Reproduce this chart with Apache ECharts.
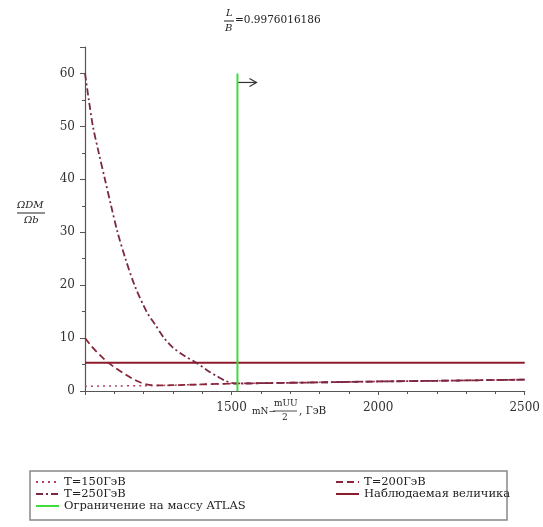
<!DOCTYPE html>
<html>
<head>
<meta charset="utf-8">
<script src="https://cdn.jsdelivr.net/npm/echarts@6/dist/echarts.min.js"></script>
<style>
  html, body { margin: 0; padding: 0; background: #fff; }
  #chart { width: 543px; height: 527px; }
</style>
</head>
<body>
<div id="chart"></div>
<script>
// Relic density ratio Omega_DM / Omega_b versus mN - mUU/2 (GeV)
const seriesNames = ['T=150ГэВ', 'T=200ГэВ', 'T=250ГэВ', 'Наблюдаемая величика', 'Ограничение на массу ATLAS'];

const massT150 = [1000, 1100, 1200, 1300, 1400, 1500, 1600, 1800, 2000, 2200, 2500];
const ratioT150 = [0.9, 0.95, 1.0, 1.1, 1.25, 1.4, 1.48, 1.63, 1.8, 1.93, 2.15];

const massT200 = [1000, 1020, 1040, 1060, 1078, 1100, 1130, 1160, 1190, 1220, 1250, 1300, 1400, 1500, 1600, 1800, 2000, 2200, 2500];
const ratioT200 = [10, 8.6, 7.4, 6.3, 5.4, 4.5, 3.4, 2.4, 1.6, 1.15, 1.05, 1.1, 1.25, 1.4, 1.48, 1.63, 1.8, 1.93, 2.15];

const massT250 = [1000, 1013, 1027, 1047, 1068, 1089, 1111, 1138, 1169, 1210, 1240, 1270, 1300, 1340, 1378, 1420, 1450, 1480, 1510, 1550, 1600, 1800, 2000, 2200, 2500];
const ratioT250 = [60, 55, 50, 45, 40, 35, 30, 25, 20, 15, 12.5, 10, 8.2, 6.6, 5.4, 3.8, 2.8, 1.9, 1.45, 1.42, 1.48, 1.63, 1.8, 1.93, 2.15];

const observedRatio = 5.36;
const atlasMass = 1520;
const atlasTop = 60;

const xTicks = { min: 1000, max: 2500, interval: 500 };
const yTicks = { min: 0, max: 65, interval: 10 };

const serif = '"DejaVu Serif", "Liberation Serif", serif';
const colT150 = '#b0405c';
const colT200 = '#8a2538';
const colT250 = '#7a2848';
const colObs = '#8c1c2c';
const colAtlas = '#3fdc3f';

const pairs = (xs, ys) => xs.map((x, i) => [x, ys[i]]);

const chart = echarts.init(document.getElementById('chart'), null, { renderer: 'canvas' });

const legendText = { fontFamily: serif, fontSize: 11.5, color: '#222', lineHeight: 11 };
const legendBase = {
  orient: 'vertical', top: 476, padding: 0,
  itemWidth: 23, itemHeight: 8, itemGap: 0,
  itemStyle: { color: 'rgba(0,0,0,0)', borderWidth: 0, opacity: 0 },
  textStyle: legendText
};

chart.setOption({
  animation: false,
  backgroundColor: '#fff',
  grid: { left: 85, right: 18, top: 47, bottom: 136, containLabel: false },
  legend: [
    Object.assign({ data: [seriesNames[0], seriesNames[2], seriesNames[4]], left: 35 }, legendBase),
    Object.assign({ data: [seriesNames[1], seriesNames[3]], left: 335 }, legendBase)
  ],
  xAxis: {
    type: 'value', min: xTicks.min, max: xTicks.max, interval: xTicks.interval,
    axisLine: { lineStyle: { color: '#555', width: 1.2 } },
    axisTick: { length: 4, lineStyle: { color: '#555' } },
    minorTick: { show: true, splitNumber: 5, length: 3, lineStyle: { color: '#555' } },
    splitLine: { show: false },
    axisLabel: {
      showMinLabel: false, fontFamily: serif, fontSize: 12, color: '#333', margin: 11,
      formatter: (v) => String(v)
    }
  },
  yAxis: {
    type: 'value', min: yTicks.min, max: yTicks.max, interval: yTicks.interval,
    axisLine: { show: true, lineStyle: { color: '#555', width: 1.2 } },
    axisTick: { show: true, length: 5, lineStyle: { color: '#555' } },
    minorTick: { show: true, splitNumber: 2, length: 3, lineStyle: { color: '#555' } },
    splitLine: { show: false },
    axisLabel: { showMaxLabel: false, fontFamily: serif, fontSize: 12, color: '#333', margin: 10 }
  },
  series: [
    {
      name: seriesNames[0], type: 'line', symbol: 'none', smooth: 0.3,
      data: pairs(massT150, ratioT150), z: 3,
      lineStyle: { color: colT150, width: 1.5, type: [2, 4] },
      itemStyle: { color: colT150 }
    },
    {
      name: seriesNames[1], type: 'line', symbol: 'none', smooth: 0.3,
      data: pairs(massT200, ratioT200), z: 4,
      lineStyle: { color: colT200, width: 1.8, type: [7, 4] },
      itemStyle: { color: colT200 }
    },
    {
      name: seriesNames[2], type: 'line', symbol: 'none', smooth: 0.3,
      data: pairs(massT250, ratioT250), z: 5,
      lineStyle: { color: colT250, width: 1.8, type: [7, 3, 2, 3] },
      itemStyle: { color: colT250 }
    },
    {
      name: seriesNames[3], type: 'line', symbol: 'none',
      data: [[xTicks.min, observedRatio], [xTicks.max, observedRatio]], z: 2,
      lineStyle: { color: colObs, width: 2 },
      itemStyle: { color: colObs }
    },
    {
      name: seriesNames[4], type: 'line', symbol: 'none',
      data: [[atlasMass, 0], [atlasMass, atlasTop]], z: 6,
      lineStyle: { color: colAtlas, width: 2 },
      itemStyle: { color: colAtlas }
    }
  ]
});

// Arrow pointing to the allowed region right of the ATLAS bound
const a0 = chart.convertToPixel({ gridIndex: 0 }, [atlasMass, 58.3]);
const a1 = chart.convertToPixel({ gridIndex: 0 }, [1585, 58.3]);

chart.setOption({
  graphic: [
    // arrow
    { type: 'line', shape: { x1: a0[0], y1: a0[1], x2: a1[0], y2: a1[1] }, style: { stroke: '#333', lineWidth: 1.2 } },
    { type: 'polyline', shape: { points: [[a1[0] - 7, a1[1] - 4], [a1[0], a1[1]], [a1[0] - 7, a1[1] + 4]] }, style: { stroke: '#333', lineWidth: 1.2, fill: null } },
    // header: L/B = value
    { type: 'text', left: 226, top: 8, style: { text: 'L', font: 'italic 10px ' + serif, fill: '#222' } },
    { type: 'line', shape: { x1: 224, y1: 21, x2: 234, y2: 21 }, style: { stroke: '#222', lineWidth: 1 } },
    { type: 'text', left: 225, top: 23, style: { text: 'B', font: 'italic 10px ' + serif, fill: '#222' } },
    { type: 'text', left: 235, top: 15, style: { text: '=0.9976016186', font: '10.5px ' + serif, fill: '#222' } },
    // y axis name: Omega_DM / Omega_b
    { type: 'text', left: 17, top: 200, style: { text: 'ΩDM', font: 'italic 10px ' + serif, fill: '#222' } },
    { type: 'line', shape: { x1: 17, y1: 213, x2: 45, y2: 213 }, style: { stroke: '#222', lineWidth: 1 } },
    { type: 'text', left: 24, top: 215, style: { text: 'Ωb', font: 'italic 10px ' + serif, fill: '#222' } },
    // x axis name: mN - mUU/2, GeV
    { type: 'text', left: 252, top: 407, style: { text: 'mN−', font: '9px ' + serif, fill: '#222' } },
    { type: 'text', left: 274, top: 399, style: { text: 'mUU', font: '9px ' + serif, fill: '#222' } },
    { type: 'line', shape: { x1: 273, y1: 411, x2: 297, y2: 411 }, style: { stroke: '#222', lineWidth: 0.8 } },
    { type: 'text', left: 282, top: 413, style: { text: '2', font: '9px ' + serif, fill: '#222' } },
    { type: 'text', left: 299, top: 406, style: { text: ', ГэВ', font: '10.5px ' + serif, fill: '#222' } },
    // legend frame
    { type: 'rect', shape: { x: 30, y: 471, width: 477, height: 49 }, style: { stroke: '#888', lineWidth: 1.5, fill: null }, z: -1 }
  ]
});
</script>
</body>
</html>
